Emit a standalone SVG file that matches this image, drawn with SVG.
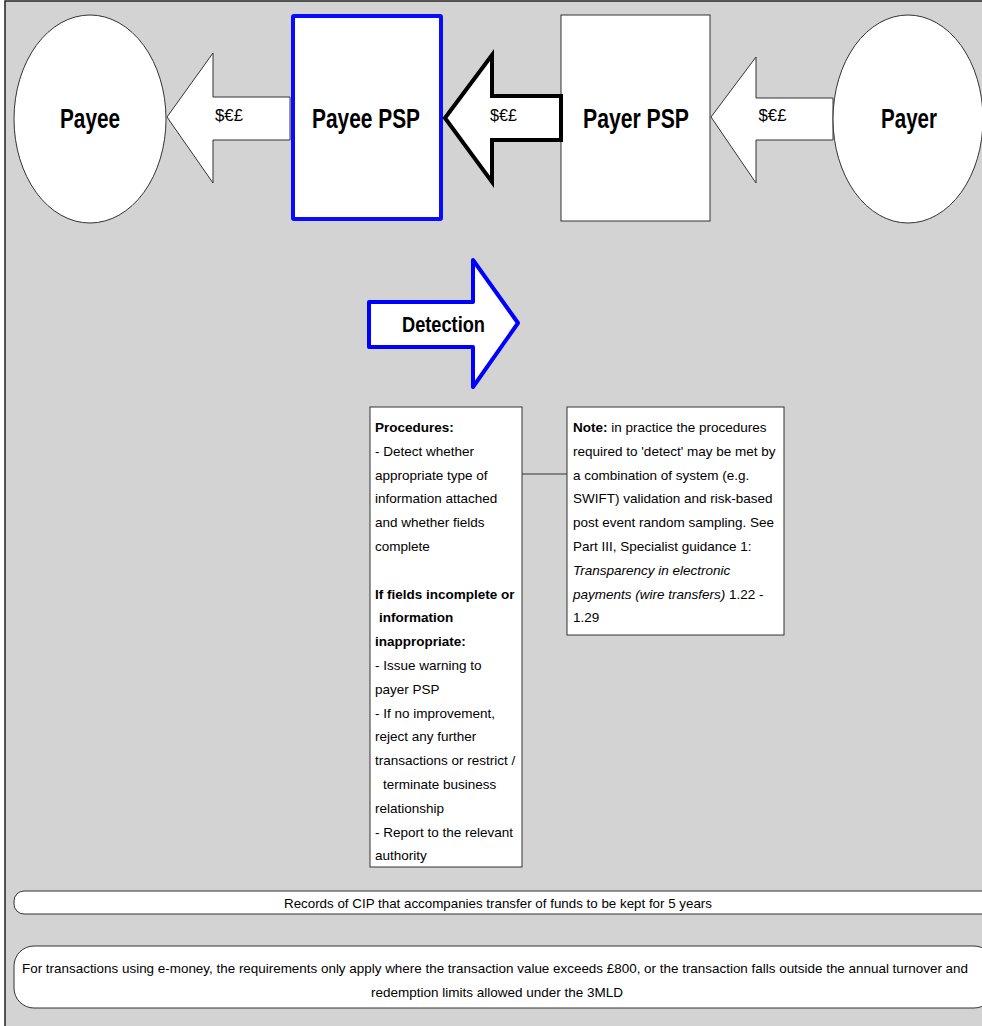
<svg xmlns="http://www.w3.org/2000/svg" width="982" height="1026" viewBox="0 0 982 1026">
<style>
text{font-family:"Liberation Sans",Arial,sans-serif;fill:#000}
.h{font-size:27px;font-weight:bold;text-anchor:middle}
.m{font-size:17px;text-anchor:middle}
.t{font-size:13.5px}
.b{font-weight:bold}
.i{font-style:italic}
.c{text-anchor:middle}
.thin{fill:#fff;stroke:#333;stroke-width:1}
</style>
<rect x="5" y="1" width="990" height="1040" fill="#d3d3d3" stroke="#222" stroke-width="1.5"/>
<g id="connectors">
<polygon class="thin" points="167,117 213,53 213,97 290,97 290,140 213,140 213,183"/>
<polygon class="thin" points="711,117 756,57 756,98 833,98 833,140 756,140 756,183"/>
<line x1="522" y1="474" x2="567" y2="474" stroke="#333" stroke-width="1"/>
</g>
<g id="payee">
<ellipse class="thin" cx="90" cy="119" rx="76" ry="104"/>
<text class="h" x="90" y="128" textLength="60" lengthAdjust="spacingAndGlyphs">Payee</text>
</g>
<g id="payee-psp">
<rect x="293" y="16" width="148" height="203" rx="1" fill="#fff" stroke="#0a0aff" stroke-width="4"/>
<text class="h" x="366" y="128" textLength="108" lengthAdjust="spacingAndGlyphs">Payee PSP</text>
</g>
<g id="payer-psp">
<rect class="thin" x="561" y="15" width="149" height="206"/>
<text class="h" x="636" y="128" textLength="106" lengthAdjust="spacingAndGlyphs">Payer PSP</text>
</g>
<g id="payer">
<ellipse class="thin" cx="908" cy="119" rx="75" ry="104"/>
<text class="h" x="909" y="128" textLength="56" lengthAdjust="spacingAndGlyphs">Payer</text>
</g>
<g id="transfer-arrow">
<polygon points="445,118 492,55 492,96 561,96 561,140 492,140 492,182" fill="#fff" stroke="#000" stroke-width="4"/>
</g>
<g id="labels">
<text class="m" x="229" y="121" textLength="28" lengthAdjust="spacingAndGlyphs">$€£</text>
<text class="m" x="503.5" y="121" textLength="27" lengthAdjust="spacingAndGlyphs">$€£</text>
<text class="m" x="772.5" y="121" textLength="28" lengthAdjust="spacingAndGlyphs">$€£</text>
</g>
<g id="detection">
<polygon points="369,302 473,302 473,260 518,323 473,387 473,347 369,347" fill="#fff" stroke="#0000ff" stroke-width="4" stroke-linejoin="round"/>
<text class="h" x="443.5" y="332" style="font-size:22px" textLength="83" lengthAdjust="spacingAndGlyphs">Detection</text>
</g>
<g id="procedures">
<rect class="thin" x="370" y="407" width="152" height="460"/>
<text class="t">
<tspan class="b" x="375" y="432">Procedures:</tspan>
<tspan x="375" y="455.8">- Detect whether</tspan>
<tspan x="375" y="479.6">appropriate type of</tspan>
<tspan x="375" y="503.4">information attached</tspan>
<tspan x="375" y="527.2">and whether fields</tspan>
<tspan x="375" y="551">complete</tspan>
<tspan class="b" x="375" y="598.6">If fields incomplete or</tspan>
<tspan class="b" x="379" y="622.4">information</tspan>
<tspan class="b" x="375" y="646.2">inappropriate:</tspan>
<tspan x="375" y="670">- Issue warning to</tspan>
<tspan x="375" y="693.8">payer PSP</tspan>
<tspan x="375" y="717.6">- If no improvement,</tspan>
<tspan x="375" y="741.4">reject any further</tspan>
<tspan x="375" y="765.2">transactions or restrict /</tspan>
<tspan x="383" y="789">terminate business</tspan>
<tspan x="375" y="812.8">relationship</tspan>
<tspan x="375" y="836.6">- Report to the relevant</tspan>
<tspan x="375" y="860.4">authority</tspan>
</text>
</g>
<g id="note">
<rect class="thin" x="567" y="407" width="217" height="228"/>
<text class="t">
<tspan x="573" y="432"><tspan class="b">Note:</tspan> in practice the procedures</tspan>
<tspan x="573" y="455.8">required to 'detect' may be met by</tspan>
<tspan x="573" y="479.6">a combination of system (e.g.</tspan>
<tspan x="573" y="503.4">SWIFT) validation and risk-based</tspan>
<tspan x="573" y="527.2">post event random sampling. See</tspan>
<tspan x="573" y="551">Part III, Specialist guidance 1:</tspan>
<tspan class="i" x="573" y="574.8">Transparency in electronic</tspan>
<tspan x="573" y="598.6"><tspan class="i">payments (wire transfers)</tspan> 1.22 -</tspan>
<tspan x="573" y="622.4">1.29</tspan>
</text>
</g>
<g id="records">
<rect class="thin" x="14" y="891" width="980" height="23" rx="10" ry="10"/>
<text class="t c" x="498" y="908" textLength="428" lengthAdjust="spacingAndGlyphs">Records of CIP that accompanies transfer of funds to be kept for 5 years</text>
</g>
<g id="emoney">
<rect class="thin" x="14" y="946" width="980" height="62" rx="20" ry="20"/>
<text class="t c" x="495" y="973" textLength="946" lengthAdjust="spacingAndGlyphs">For transactions using e-money, the requirements only apply where the transaction value exceeds £800, or the transaction falls outside the annual turnover and</text>
<text class="t c" x="497" y="997">redemption limits allowed under the 3MLD</text>
</g>
</svg>
